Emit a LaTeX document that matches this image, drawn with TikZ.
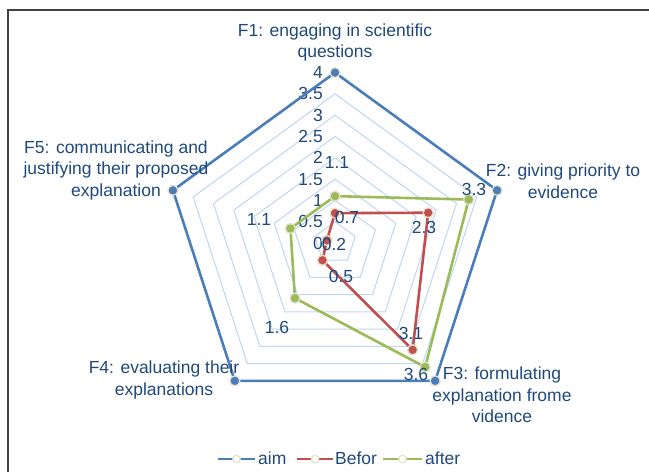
\documentclass[tikz,border=0pt]{standalone}
\usepackage{fontspec}
\setmainfont{Liberation Sans}
\definecolor{txt}{HTML}{1F497D}
\definecolor{aimc}{HTML}{4A7EBB}
\definecolor{befc}{HTML}{C0504D}
\definecolor{aftc}{HTML}{9BBB59}
\definecolor{gridc}{HTML}{C0D5EF}
\definecolor{glow}{HTML}{E4E0CC}
\begin{document}
\begin{tikzpicture}[x=1pt,y=1pt,
  lbl/.style={font=\fontsize{17.5}{21.5}\selectfont, text=txt, inner sep=0pt, align=center},
  mk/.style={circle, inner sep=0pt, minimum size=10pt, draw=glow, line width=1.3pt, fill=#1},
  lgmk/.style={circle, inner sep=0pt, minimum size=7.5pt, draw=glow, line width=1.1pt, fill=white},
  ser/.style={line width=2.6pt, draw=#1, line join=round},
  gridline/.style={draw=gridc, line width=1pt}]
\useasboundingbox (0,0) rectangle (649,472);
% frame
\coordinate (fb) at (8,0);
\coordinate (fc) at (8,462);
\coordinate (fr) at (649,462);
\draw[line width=1.5pt, draw=black!75] (fb) -- (fc) -- (fr);
\begin{scope}[shift={(335,229)}]
  \foreach \v in {0.5,1,...,3.5}
    \draw[gridline] (90:{\v*42.6}) -- (18:{\v*42.6}) -- (-54:{\v*42.6}) -- (-126:{\v*42.6}) -- (162:{\v*42.6}) -- cycle;
  % axis labels
  \foreach \v/\t in {0/0,0.5/0.5,1/1,1.5/1.5,2/2,2.5/2.5,3/3,3.5/3.5,4/4}
    \node[lbl, anchor=east] (ax\t) at (-12,{\v*42.6}) {\t};
  % series points
  \foreach \n/\ang in {1/90,2/18,3/-54,4/-126,5/162}
    \coordinate (a\n) at (\ang:170.4);
  \foreach \n/\ang/\v in {1/90/0.7,2/18/2.3,3/-54/3.1,4/-126/0.5,5/162/0.2}
    \coordinate (b\n) at (\ang:{\v*42.6});
  \foreach \n/\ang/\v in {1/90/1.1,2/18/3.3,3/-54/3.6,4/-126/1.6,5/162/1.1}
    \coordinate (c\n) at (\ang:{\v*42.6});
  \draw[ser=aimc] (a1) -- (a2) -- (a3) -- (a4) -- (a5) -- cycle;
  \foreach \n in {1,...,5} \node[mk=aimc] (am\n) at (a\n) {};
  \draw[ser=befc] (b1) -- (b2) -- (b3) -- (b4) -- (b5) -- cycle;
  \foreach \n in {1,...,5} \node[mk=befc] (bm\n) at (b\n) {};
  \draw[ser=aftc] (c1) -- (c2) -- (c3) -- (c4) -- (c5) -- cycle;
  \foreach \n in {1,...,5} \node[mk=aftc] (cm\n) at (c\n) {};
\end{scope}
% data labels
\node[lbl] (dc1) at (337,310) {1.1};
\node[lbl] (dc2) at (474,283) {3.3};
\node[lbl] (dc3) at (416,98) {3.6};
\node[lbl] (dc4) at (277,145) {1.6};
\node[lbl] (dc5) at (259,253) {1.1};
\node[lbl] (db1) at (347,255) {0.7};
\node[lbl] (db2) at (424,245) {2.3};
\node[lbl] (db3) at (411,139) {3.1};
\node[lbl] (db4) at (341,196) {0.5};
\node[lbl] (db5) at (334,228) {0.2};
% category labels
\node[lbl] (F1) at (335,429.5) {F1: engaging in scientific\\questions};
\node[lbl] (F2) at (563,291) {F2: giving priority to\\evidence};
\node[lbl] (F3) at (502,77) {F3: formulating\\explanation frome\\vidence};
\node[lbl] (F4) at (164,92) {F4: evaluating their\\explanations};
\node[lbl] (F5) at (116,302) {F5: communicating and\\justifying their proposed\\explanation};
% legend
\coordinate (la1) at (218,13); \coordinate (la2) at (255,13);
\coordinate (lb1) at (297,13); \coordinate (lb2) at (333,13);
\coordinate (lc1) at (383,13); \coordinate (lc2) at (422,13);
\draw[line width=2.6pt, aimc] (la1) -- (la2);
\node[lgmk] (lam) at (236.5,13) {};
\node[lbl, anchor=base west] (lat) at (258,7) {aim};
\draw[line width=2.6pt, befc] (lb1) -- (lb2);
\node[lgmk] (lbm) at (315,13) {};
\node[lbl, anchor=base west] (lbt) at (335,7) {Befor};
\draw[line width=2.6pt, aftc] (lc1) -- (lc2);
\node[lgmk] (lcm) at (402.5,13) {};
\node[lbl, anchor=base west] (lct) at (425,7) {after};
\end{tikzpicture}
\end{document}
